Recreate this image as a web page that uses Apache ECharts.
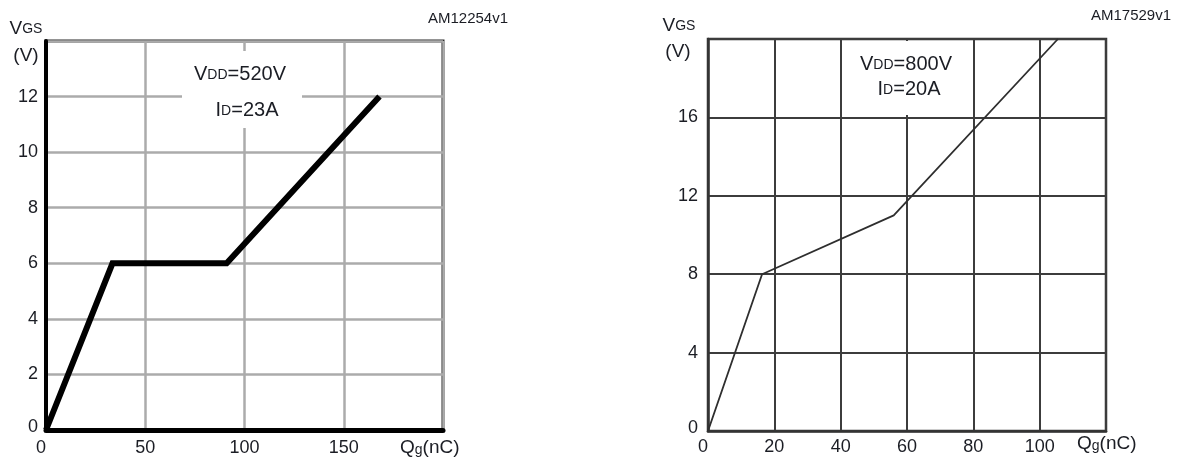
<!DOCTYPE html>
<html>
<head>
<meta charset="utf-8">
<style>
  html, body { margin: 0; padding: 0; background: #fff; }
  #chart { width: 1179px; height: 458px; }
</style>
<script src="https://cdn.jsdelivr.net/npm/echarts@6.0.0/dist/echarts.min.js"></script>
</head>
<body>
<div id="chart"></div>
<script>
// Gate charge curves: VGS versus Qg for two test conditions.

// Left panel (VDD = 520 V, ID = 23 A)
const leftQg = [0, 33.5, 91, 168];
const leftVgs = [0, 6, 6, 12];
const leftXAxis = { min: 0, max: 200, interval: 50 };
const leftYAxis = { min: 0, max: 14, interval: 2 };

// Right panel (VDD = 800 V, ID = 20 A)
const rightQg = [0, 16.3, 56, 105.5];
const rightVgs = [0, 8, 11, 20];
const rightXAxis = { min: 0, max: 120, interval: 20 };
const rightYAxis = { min: 0, max: 20, interval: 4 };

// Texts
const leftCode = 'AM12254v1';
const rightCode = 'AM17529v1';
const leftCond = ['{b|V}{s|DD}{b|=520V}', '{b|I}{s|D}{b|=23A}'];
const rightCond = ['{b|V}{s|DD}{b|=800V}', '{b|I}{s|D}{b|=20A}'];
const yName = '{y|V}{ys|GS}';
const yUnit = '{y|(V)}';
const xName = '{y|Q}{g|g}{y|(nC)}';

const FONT = '"Liberation Sans", Arial, Helvetica, sans-serif';
const TEXT = '#1b1d24';

const RICH = {
  b: { fontSize: 20, lineHeight: 22, fontFamily: FONT, fill: TEXT, color: TEXT, verticalAlign: 'bottom' },
  s: { fontSize: 14, lineHeight: 16, fontFamily: FONT, fill: TEXT, color: TEXT, verticalAlign: 'bottom', padding: [0, 0, 2, 0] },
  y: { fontSize: 19, lineHeight: 21, fontFamily: FONT, fill: TEXT, color: TEXT, verticalAlign: 'bottom' },
  ys: { fontSize: 14, lineHeight: 16, fontFamily: FONT, fill: TEXT, color: TEXT, verticalAlign: 'bottom', padding: [0, 0, 2, 0] },
  g: { fontSize: 14, lineHeight: 12, fontFamily: FONT, fill: TEXT, color: TEXT, verticalAlign: 'bottom' }
};

function label(text, x, y, align) {
  return {
    type: 'text', x: x, y: y, z: 5,
    style: {
      text: text, rich: RICH, fill: TEXT,
      align: align, verticalAlign: 'middle',
      textAlign: align, textVerticalAlign: 'middle',
      fontFamily: FONT, fontSize: 19
    }
  };
}
function plain(text, x, y, size) {
  return {
    type: 'text', x: x, y: y, z: 5,
    style: {
      text: text, fill: TEXT, fontFamily: FONT, fontSize: size,
      align: 'center', verticalAlign: 'middle',
      textAlign: 'center', textVerticalAlign: 'middle'
    }
  };
}
function whiteBox(x, y, w, h) {
  return { type: 'rect', z: 1, shape: { x: x, y: y, width: w, height: h }, style: { fill: '#fff' }, silent: true };
}

function axisLabelStyle(margin) {
  return {
    color: TEXT, fontFamily: FONT, fontSize: 18, margin: margin,
    showMaxLabel: false
  };
}
// the zero on a value axis sits a little above the x axis line
function yLabelStyle(margin) {
  return Object.assign(axisLabelStyle(margin), {
    formatter: v => (v === 0 ? '{z|0}' : String(v)),
    rich: { z: { fontSize: 18, fontFamily: FONT, color: TEXT, padding: [0, 0, 6, 0] } }
  });
}

const chart = echarts.init(document.getElementById('chart'), null, { renderer: 'canvas' });

chart.setOption({
  backgroundColor: '#fff',
  animation: false,
  grid: [
    { left: 46, top: 41, width: 397, height: 389, show: true, borderColor: '#2a2a2a', borderWidth: 3, backgroundColor: 'transparent' },
    { left: 708, top: 39, width: 398, height: 392, show: true, borderColor: '#333', borderWidth: 2.5, backgroundColor: 'transparent' }
  ],
  xAxis: [
    {
      type: 'value', gridIndex: 0, ...leftXAxis,
      axisLine: { show: true, onZero: false, lineStyle: { color: '#000', width: 5 } },
      axisTick: { show: false },
      axisLabel: Object.assign(axisLabelStyle(9), { alignMinLabel: 'right' }),
      splitLine: { show: true, lineStyle: { color: '#ababab', width: 2.5 } }
    },
    {
      type: 'value', gridIndex: 1, ...rightXAxis,
      axisLine: { show: true, onZero: false, lineStyle: { color: '#333', width: 2.5 } },
      axisTick: { show: false },
      axisLabel: Object.assign(axisLabelStyle(7), { alignMinLabel: 'right' }),
      splitLine: { show: true, lineStyle: { color: '#3c3c3c', width: 2 } }
    }
  ],
  yAxis: [
    {
      type: 'value', gridIndex: 0, ...leftYAxis,
      axisLine: { show: true, onZero: false, lineStyle: { color: '#000', width: 4 } },
      axisTick: { show: false },
      axisLabel: yLabelStyle(8),
      splitLine: { show: true, lineStyle: { color: '#ababab', width: 2.5 } }
    },
    {
      type: 'value', gridIndex: 1, ...rightYAxis,
      axisLine: { show: true, onZero: false, lineStyle: { color: '#333', width: 2.5 } },
      axisTick: { show: false },
      axisLabel: yLabelStyle(10),
      splitLine: { show: true, lineStyle: { color: '#3c3c3c', width: 2 } }
    }
  ],
  series: [
    {
      type: 'line', xAxisIndex: 0, yAxisIndex: 0, z: 4,
      data: leftQg.map((q, i) => [q, leftVgs[i]]),
      showSymbol: false, symbol: 'none',
      lineStyle: { color: '#000', width: 6, join: 'miter' }
    },
    {
      type: 'line', xAxisIndex: 1, yAxisIndex: 1, z: 4,
      data: rightQg.map((q, i) => [q, rightVgs[i]]),
      showSymbol: false, symbol: 'none',
      lineStyle: { color: '#2e2e2e', width: 1.8 }
    }
  ],
  graphic: [
    // condition boxes mask the grid behind their text
    whiteBox(182, 51, 120, 77),
    whiteBox(842, 41, 128, 74),
    label(leftCond[0], 240, 73, 'center'),
    label(leftCond[1], 247, 109, 'center'),
    label(rightCond[0], 906, 63, 'center'),
    label(rightCond[1], 909, 88, 'center'),
    // axis titles
    label(yName, 26, 28, 'center'),
    label(yUnit, 26, 55, 'center'),
    label(xName, 400, 447, 'left'),
    label(yName, 679, 25, 'center'),
    label(yUnit, 678, 51, 'center'),
    label(xName, 1077, 443, 'left'),
    // drawing codes
    plain(leftCode, 468, 19, 15),
    plain(rightCode, 1131, 16, 15)
  ]
});
</script>
</body>
</html>
